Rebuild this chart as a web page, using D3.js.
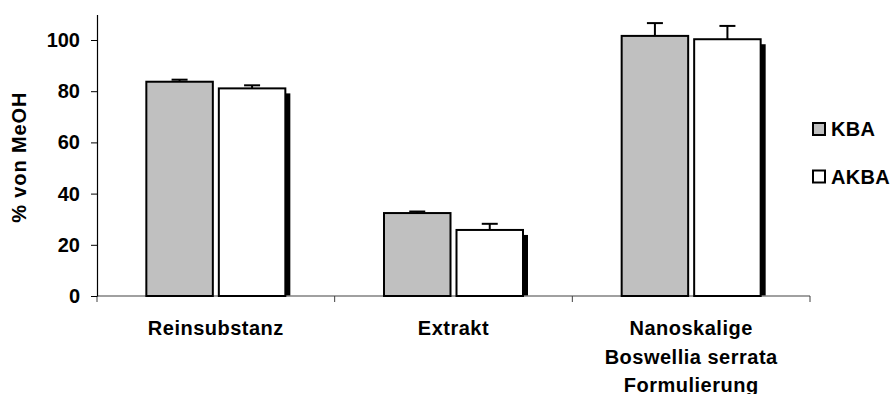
<!DOCTYPE html>
<html>
<head>
<meta charset="utf-8">
<script src="https://cdnjs.cloudflare.com/ajax/libs/d3/7.8.5/d3.min.js"></script>
<style>
  body { margin: 0; background: #fff; }
  text { font-family: "Liberation Sans", Arial, sans-serif; font-weight: bold; }
</style>
</head>
<body>
<div id="chart"></div>
<script>
const categories = [["Reinsubstanz"], ["Extrakt"], ["Nanoskalige", "Boswellia serrata", "Formulierung"]]
const seriesNames = ["KBA", "AKBA"]
const kba = [83.7, 32.4, 101.6]
const kbaErr = [0.8, 0.6, 5.0]
const akba = [81.1, 25.8, 100.3]
const akbaErr = [1.2, 2.4, 5.2]
const yTicks = [0, 20, 40, 60, 80, 100]

function drawChart(){
    const width = 892
    const height = 394
    const margin = {top: 14.4, right: 82, bottom: 98, left: 97}
    const fontSize = 20

    const svg = d3.select('#chart')
    .append("svg")
    .attr("width", width)
    .attr("height", height)

    var x = d3.scaleBand()
    .domain(d3.range(categories.length))
    .range([margin.left, width - margin.right])

    var y = d3.scaleLinear()
    .domain([0, 110])
    .range([height - margin.bottom, margin.top])

    const barW = 66.5
    const gap = 6
    const groupOff = (x.bandwidth() - (2*barW + gap)) / 2

    var rows = d3.range(categories.length).map(function(i){
      return [
        {i: i, s: 0, v: kba[i], e: kbaErr[i]},
        {i: i, s: 1, v: akba[i], e: akbaErr[i]}
      ]
    }).flat()

    function bx(d){ return x(d.i) + groupOff + d.s*(barW + gap) }

    // shadow behind second series
    svg.append("g")
      .selectAll("rect")
      .data(rows.filter(function(d){ return d.s == 1 }))
      .enter()
      .append("rect")
        .attr("x", function(d){ return bx(d) + 5 })
        .attr("y", function(d){ return y(d.v) + 5 })
        .attr("width", barW)
        .attr("height", function(d){ return y(0) - y(d.v) - 5 })
        .attr("fill", "#000")

    // x axis
    svg.append("line")
      .attr("x1", margin.left).attr("x2", width - margin.right)
      .attr("y1", y(0)).attr("y2", y(0))
      .attr("stroke", "#808080").attr("stroke-width", 1.5)

    svg.append("g")
      .selectAll("line")
      .data(d3.range(categories.length + 1))
      .enter()
      .append("line")
        .attr("x1", function(d){ return margin.left + d*x.step() })
        .attr("x2", function(d){ return margin.left + d*x.step() })
        .attr("y1", y(0)).attr("y2", y(0) + 6)
        .attr("stroke", "#404040").attr("stroke-width", 1)

    // bars
    svg.append("g")
      .selectAll("rect")
      .data(rows)
      .enter()
      .append("rect")
        .attr("x", bx)
        .attr("y", function(d){ return y(d.v) })
        .attr("width", barW)
        .attr("height", function(d){ return y(0) - y(d.v) })
        .attr("fill", function(d){ return d.s == 0 ? "#c0c0c0" : "#ffffff" })
        .attr("stroke", "#000")
        .attr("stroke-width", 2)

    // error bars
    var eb = svg.append("g")
      .selectAll("g")
      .data(rows)
      .enter()
      .append("g")
    eb.append("line")
      .attr("x1", function(d){ return bx(d) + barW/2 })
      .attr("x2", function(d){ return bx(d) + barW/2 })
      .attr("y1", function(d){ return y(d.v) })
      .attr("y2", function(d){ return y(d.v + d.e) })
      .attr("stroke", "#000").attr("stroke-width", 2)
    eb.append("line")
      .attr("x1", function(d){ return bx(d) + barW/2 - 8 })
      .attr("x2", function(d){ return bx(d) + barW/2 + 8 })
      .attr("y1", function(d){ return y(d.v + d.e) })
      .attr("y2", function(d){ return y(d.v + d.e) })
      .attr("stroke", "#000").attr("stroke-width", 2)

    // y axis
    svg.append("g")
      .attr("transform", "translate(" + margin.left + ",0)")
      .call(d3.axisLeft(y).tickValues(yTicks).tickSize(6).tickPadding(11).tickSizeOuter(0))
      .call(function(g){
        g.select(".domain").attr("stroke", "#000").attr("stroke-width", 1.2)
        g.selectAll(".tick line").attr("stroke", "#000")
        g.selectAll("text")
          .attr("fill", "#000")
          .style("font-size", fontSize + "px")
          .style("font-family", "Liberation Sans, Arial, sans-serif")
          .style("font-weight", "bold")
      })

    svg.append("text")
    .attr("transform", "translate(26," + ((y(0) + y(110))/2 + 2) + ") rotate(-90)")
    .style("text-anchor", "middle")
    .style("font-size", fontSize + "px")
    .style("letter-spacing", "0.9px")
    .text("% von MeOH");

    // category labels
    svg.append("g")
      .selectAll("text")
      .data(categories)
      .enter()
      .append("text")
        .attr("x", function(d, i){ return x(i) + x.bandwidth()/2 })
        .attr("y", 335)
        .style("text-anchor", "middle")
        .style("font-size", fontSize + "px")
        .style("letter-spacing", "0.5px")
        .selectAll("tspan")
        .data(function(d){ return d })
        .enter()
        .append("tspan")
          .attr("x", function(){ return d3.select(this.parentNode).attr("x") })
          .attr("dy", function(d, j){ return j == 0 ? 0 : 28.5 })
          .text(function(d){ return d })

    // legend
    var leg = svg.append("g")
      .selectAll("g")
      .data(seriesNames)
      .enter()
      .append("g")
        .attr("transform", function(d, i){ return "translate(813," + (123 + i*47.5) + ")" })
    leg.append("rect")
      .attr("width", 12).attr("height", 12)
      .attr("fill", function(d, i){ return i == 0 ? "#c0c0c0" : "#fff" })
      .attr("stroke", "#000").attr("stroke-width", 2)
    leg.append("text")
      .attr("x", 18).attr("y", 13)
      .style("font-size", fontSize + "px")
      .style("letter-spacing", "0.3px")
      .text(function(d){ return d })
}

drawChart()
</script>
</body>
</html>
